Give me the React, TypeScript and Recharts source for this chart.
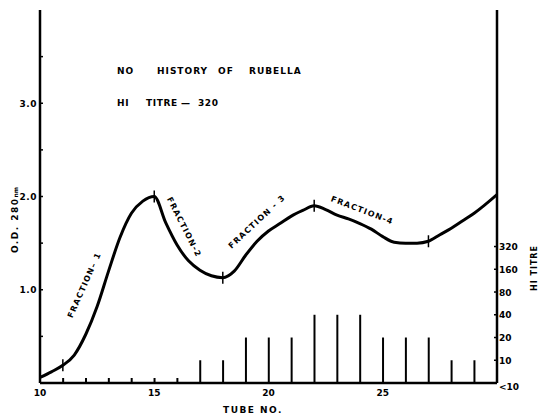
import React from 'react';
import { ComposedChart, Line, Bar, XAxis, YAxis, ReferenceDot, Customized } from 'recharts';

// O.D. 280nm profile (tube number, optical density)
const odTubes = [10, 10.5, 11, 11.5, 12, 12.5, 13, 13.5, 14, 14.5, 15, 15.5, 16, 16.5, 17, 17.5, 18, 18.5, 19, 19.5, 20, 20.5, 21, 21.5, 22, 22.5, 23, 23.5, 24, 24.5, 25, 25.5, 26, 26.5, 27, 27.5, 28, 28.5, 29, 30];
const odValues = [0.06, 0.12, 0.19, 0.3, 0.52, 0.82, 1.2, 1.56, 1.82, 1.95, 2.0, 1.72, 1.48, 1.31, 1.21, 1.15, 1.13, 1.2, 1.37, 1.52, 1.63, 1.71, 1.79, 1.85, 1.9, 1.86, 1.8, 1.76, 1.71, 1.65, 1.57, 1.51, 1.5, 1.5, 1.52, 1.59, 1.66, 1.74, 1.82, 2.02];

// HI titre per tube (0 means "<10")
const titreTubes = [11, 12, 13, 14, 15, 16, 17, 18, 19, 20, 21, 22, 23, 24, 25, 26, 27, 28, 29];
const titreValues = [0, 0, 0, 0, 0, 0, 10, 10, 20, 20, 20, 40, 40, 40, 20, 20, 20, 10, 10];

// Fraction boundary ticks on the curve
const boundaryTubes = [11, 15, 18, 22, 27];

// Axis ticks
const xTicks = [10, 15, 20, 25];
const odTicks = [0.5, 1, 1.5, 2, 2.5, 3, 3.5];
const titreTickLabels = ['<10', '10', '20', '40', '80', '160', '320'];

// Fraction labels: [text, tube, od, angle]
const fractionLabels: [string, number, number, number][] = [
  ['FRACTION\u2013 1', 11.95, 1.05, -66],
  ['FRACTION-2', 16.3, 1.67, 63],
  ['FRACTION - 3', 19.5, 1.73, -43],
  ['FRACTION-4', 24.1, 1.85, 21],
];

const FONT = '"DejaVu Sans", sans-serif';

const titreLevel = (v: number) => (v > 0 ? Math.log2(v / 5) : 0.22);

const data = odTubes.map((t, i) => {
  const k = titreTubes.indexOf(t);
  return {
    tube: t,
    od: odValues[i],
    level: k >= 0 ? titreLevel(titreValues[k]) : undefined,
  };
});

const XTick = (p: any) => (
  <text x={p.x} y={p.y + 13} textAnchor="middle" fontFamily={FONT} fontWeight="bold" fontSize={9} fill="#000">
    {p.payload.value}
  </text>
);

const LeftTick = (p: any) => {
  const v = p.payload.value;
  const isMajor = Number.isInteger(v);
  return (
    <g>
      <line x1={p.x} x2={p.x + 3} y1={p.y} y2={p.y} stroke="#000" strokeWidth={1.5} />
      {isMajor && (
        <text x={p.x - 3} y={p.y + 3.5} textAnchor="end" fontFamily={FONT} fontWeight="bold" fontSize={9} fill="#000" letterSpacing={0.5}>
          {v.toFixed(1)}
        </text>
      )}
    </g>
  );
};

const RightTick = (p: any) => {
  const v = p.payload.value;
  return (
    <g>
      <line x1={p.x - 3} x2={p.x} y1={p.y} y2={p.y} stroke="#000" strokeWidth={1.5} />
      <text x={p.x + 2} y={p.y + 3.5 + (v === 0 ? 3 : 0)} textAnchor="start" fontFamily={FONT} fontWeight="bold" fontSize={9} fill="#000">
        {titreTickLabels[v]}
      </text>
    </g>
  );
};

const CurveDot = (p: any) => {
  const key = `d${p.index}`;
  if (!p.payload || !boundaryTubes.includes(p.payload.tube)) return <g key={key} />;
  return <line key={key} x1={p.cx} x2={p.cx} y1={p.cy - 6} y2={p.cy + 6} stroke="#000" strokeWidth={1.5} />;
};

const Titles = () => (
  <g fontFamily={FONT} fontWeight="bold" fontSize={9} fill="#000">
    <text y={74} letterSpacing={1}>
      <tspan x={117}>NO</tspan>
      <tspan x={157}>HISTORY</tspan>
      <tspan x={218}>OF</tspan>
      <tspan x={249}>RUBELLA</tspan>
    </text>
    <text y={106} letterSpacing={0.6}>
      <tspan x={117}>HI</tspan>
      <tspan x={146}>TITRE</tspan>
      <tspan x={181}>{'\u2014'}</tspan>
      <tspan x={198}>320</tspan>
    </text>
    <text x={18} y={220} transform="rotate(-90 18 220)" textAnchor="middle" letterSpacing={1.5}>
      O.D. 280<tspan fontSize={6} letterSpacing={0}>nm</tspan>
    </text>
    <text x={253} y={413} textAnchor="middle" letterSpacing={1.5}>TUBE  NO.</text>
    <text x={537} y={268} transform="rotate(-90 537 268)" textAnchor="middle" fontSize={8} letterSpacing={1}>
      HI  TITRE
    </text>
  </g>
);

export default function App() {
  return (
    <div style={{ position: 'absolute', left: 0, top: 0, width: 541, height: 415, background: '#fff' }}>
      <ComposedChart width={541} height={415} data={data} margin={{ top: 10, right: 0, bottom: 0, left: 0 }}>
        <XAxis
          dataKey="tube"
          type="number"
          domain={[10, 30]}
          ticks={xTicks}
          tick={<XTick />}
          tickLine={false}
          tickSize={0}
          tickMargin={0}
          height={32}
          axisLine={{ stroke: '#000', strokeWidth: 2.5 }}
          allowDataOverflow
        />
        <YAxis
          yAxisId="left"
          domain={[0, 4]}
          ticks={odTicks}
          interval={0}
          tick={<LeftTick />}
          tickLine={false}
          tickSize={0}
          tickMargin={0}
          width={40}
          axisLine={{ stroke: '#000', strokeWidth: 2.5 }}
          allowDataOverflow
        />
        <YAxis
          yAxisId="right"
          orientation="right"
          domain={[0, 16.4]}
          ticks={[0, 1, 2, 3, 4, 5, 6]}
          interval={0}
          tick={<RightTick />}
          tickLine={false}
          tickSize={0}
          tickMargin={0}
          width={44}
          axisLine={{ stroke: '#000', strokeWidth: 2.5 }}
          allowDataOverflow
        />
        <Bar yAxisId="right" dataKey="level" fill="#000" barSize={2} isAnimationActive={false} />
        <Line
          yAxisId="left"
          type="monotone"
          dataKey="od"
          stroke="#000"
          strokeWidth={3}
          dot={(p: any) => <CurveDot {...p} />}
          activeDot={false}
          isAnimationActive={false}
        />
        {fractionLabels.map(([txt, x, y, a]) => (
          <ReferenceDot
            key={txt}
            yAxisId="left"
            x={x}
            y={y}
            r={0}
            shape={(p: any) => (
              <text
                x={p.cx}
                y={p.cy}
                transform={`rotate(${a} ${p.cx} ${p.cy})`}
                textAnchor="middle"
                dominantBaseline="central"
                fontFamily={FONT}
                fontWeight="bold"
                fontSize={8}
                letterSpacing={1.2}
                fill="#000"
              >
                {txt}
              </text>
            )}
          />
        ))}
        <Customized component={Titles} />
      </ComposedChart>
    </div>
  );
}
